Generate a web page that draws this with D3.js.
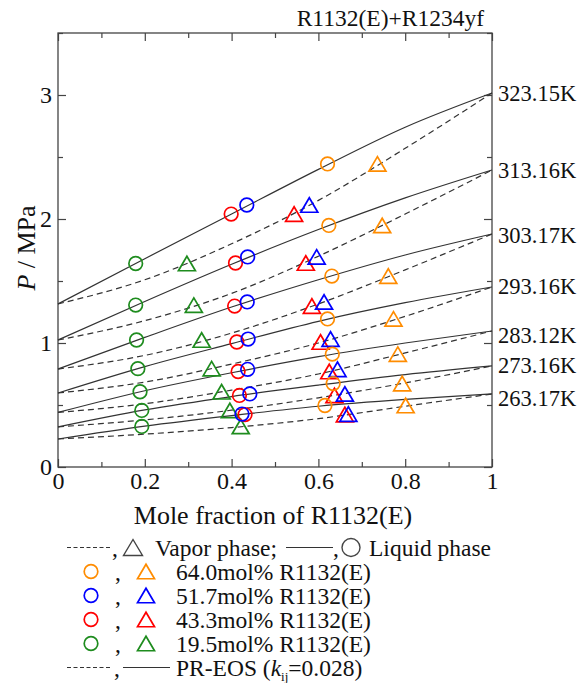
<!DOCTYPE html>
<html>
<head>
<meta charset="utf-8">
<script src="https://cdn.jsdelivr.net/npm/d3@7"></script>
<style>
  html, body { margin: 0; padding: 0; background: #fff; }
</style>
</head>
<body>
<svg id="chart" width="586" height="683" font-family="Liberation Serif"></svg>
<script>
// Isotherms of the R1132(E)+R1234yf system
const temperatures = ["323.15K", "313.16K", "303.17K", "293.16K", "283.12K", "273.16K", "263.17K"];

// PR-EOS curves, read at fixed mole fractions
const curveX = [0, 0.2, 0.4, 0.6, 0.8, 1];
const bubbleP = [
  [1.315, 1.68, 2.04, 2.40, 2.74, 3.016],
  [1.024, 1.335, 1.635, 1.915, 2.17, 2.395],
  [0.79, 1.045, 1.29, 1.51, 1.71, 1.879],
  [0.597, 0.81, 0.995, 1.175, 1.325, 1.452],
  [0.44, 0.615, 0.76, 0.89, 1.0, 1.097],
  [0.323, 0.46, 0.568, 0.66, 0.745, 0.815],
  [0.226, 0.33, 0.415, 0.49, 0.545, 0.589]
];
const dewP = [
  [1.315, 1.51, 1.80, 2.15, 2.57, 3.016],
  [1.024, 1.18, 1.40, 1.70, 2.04, 2.395],
  [0.79, 0.90, 1.08, 1.315, 1.59, 1.879],
  [0.597, 0.685, 0.83, 1.00, 1.215, 1.452],
  [0.44, 0.51, 0.62, 0.75, 0.92, 1.097],
  [0.323, 0.38, 0.458, 0.558, 0.678, 0.815],
  [0.226, 0.265, 0.318, 0.39, 0.49, 0.589]
];

// Measured mixtures (rows) at each temperature (columns)
const mixtureLabels = ["64.0mol% R1132(E)", "51.7mol% R1132(E)", "43.3mol% R1132(E)", "19.5mol% R1132(E)"];
const mixtureColors = ["#ff8c00", "#0000ff", "#ff0000", "#1e8c1e"];
const measuredP = [
  [2.444, 1.948, 1.540, 1.194, 0.910, 0.673, 0.496],
  [2.113, 1.694, 1.331, 1.032, 0.788, 0.589, 0.427],
  [2.040, 1.645, 1.298, 1.008, 0.770, 0.577, 0.423],
  [1.641, 1.306, 1.024, 0.793, 0.607, 0.456, 0.327]
];
const liquidX = [
  [0.621, 0.624, 0.631, 0.621, 0.632, 0.634, 0.615],
  [0.435, 0.437, 0.436, 0.438, 0.437, 0.442, 0.424],
  [0.399, 0.409, 0.407, 0.412, 0.415, 0.418, 0.431],
  [0.179, 0.179, 0.181, 0.184, 0.189, 0.193, 0.193]
];
const vaporY = [
  [0.736, 0.747, 0.761, 0.773, 0.783, 0.793, 0.801],
  [0.579, 0.596, 0.613, 0.628, 0.644, 0.661, 0.669],
  [0.544, 0.571, 0.585, 0.605, 0.625, 0.637, 0.661],
  [0.297, 0.313, 0.331, 0.354, 0.377, 0.396, 0.421]
];

const xTicks = [0, 0.2, 0.4, 0.6, 0.8, 1];
const xMinorTicks = [0.1, 0.3, 0.5, 0.7, 0.9];
const yTicks = [0, 1, 2, 3];
const yMinorTicks = [0.5, 1.5, 2.5, 3.5];

const svg = d3.select("#chart");
const L = 58, R = 492, T = 33, B = 467;
const x = d3.scaleLinear().domain([0, 1]).range([L, R]);
const y = d3.scaleLinear().domain([0, 3.5]).range([B, T]);

const lineColor = "#333";
const axisColor = "#444";

// ---- axes (ticks point inward on all four sides)
function styleAxis(g) {
  g.attr("font-family", "Liberation Serif");
  g.select(".domain").remove();
  g.selectAll(".tick line").attr("stroke", axisColor).attr("stroke-width", 1.2);
  g.selectAll("text").attr("font-size", 24).attr("fill", "#111");
}
const fmt = d3.format("~g");

svg.append("g").attr("transform", `translate(0,${B})`)
  .call(d3.axisBottom(x).tickValues(xTicks).tickSize(-8).tickPadding(5).tickFormat(fmt)).call(styleAxis);
svg.append("g").attr("transform", `translate(0,${B})`)
  .call(d3.axisBottom(x).tickValues(xMinorTicks).tickSize(-5).tickFormat("")).call(styleAxis);
svg.append("g").attr("transform", `translate(0,${T})`)
  .call(d3.axisTop(x).tickValues(xTicks).tickSize(-8).tickFormat("")).call(styleAxis);
svg.append("g").attr("transform", `translate(0,${T})`)
  .call(d3.axisTop(x).tickValues(xMinorTicks).tickSize(-5).tickFormat("")).call(styleAxis);
svg.append("g").attr("transform", `translate(${L},0)`)
  .call(d3.axisLeft(y).tickValues(yTicks).tickSize(-8).tickPadding(6).tickFormat(fmt)).call(styleAxis);
svg.append("g").attr("transform", `translate(${L},0)`)
  .call(d3.axisLeft(y).tickValues(yMinorTicks).tickSize(-5).tickFormat("")).call(styleAxis);
svg.append("g").attr("transform", `translate(${R},0)`)
  .call(d3.axisRight(y).tickValues(yTicks).tickSize(-8).tickFormat("")).call(styleAxis);
svg.append("g").attr("transform", `translate(${R},0)`)
  .call(d3.axisRight(y).tickValues(yMinorTicks).tickSize(-5).tickFormat("")).call(styleAxis);

// plot frame
svg.append("rect").attr("x", L).attr("y", T).attr("width", R - L).attr("height", B - T)
  .attr("fill", "none").attr("stroke", axisColor).attr("stroke-width", 1.3);

// ---- PR-EOS curves: solid = bubble (liquid), dashed = dew (vapor)
const curveLine = d3.line().x(d => x(d[0])).y(d => y(d[1])).curve(d3.curveMonotoneX);
const curves = svg.append("g");
temperatures.forEach((t, i) => {
  curves.append("path").datum(curveX.map((cx, k) => [cx, bubbleP[i][k]]))
    .attr("d", curveLine).attr("fill", "none").attr("stroke", lineColor).attr("stroke-width", 1.2);
  curves.append("path").datum(curveX.map((cx, k) => [cx, dewP[i][k]]))
    .attr("d", curveLine).attr("fill", "none").attr("stroke", lineColor).attr("stroke-width", 1.2)
    .attr("stroke-dasharray", "6,4");
});

// ---- measured points: circles = liquid, triangles = vapor
const triPath = (w, h) => `M0,${-h / 2}L${w / 2},${h / 2}L${-w / 2},${h / 2}Z`;
const markers = svg.append("g");
[3, 2, 1, 0].forEach(m => {
  const col = mixtureColors[m];
  const pts = temperatures.map((t, i) => ({ p: measuredP[m][i], xl: liquidX[m][i], yv: vaporY[m][i] }));
  markers.selectAll(null).data(pts).enter().append("circle")
    .attr("cx", d => x(d.xl)).attr("cy", d => y(d.p)).attr("r", 6.8)
    .attr("fill", "none").attr("stroke", col).attr("stroke-width", 1.7);
  markers.selectAll(null).data(pts).enter().append("path")
    .attr("d", triPath(17, 14.5))
    .attr("transform", d => `translate(${x(d.yv)},${y(d.p)})`)
    .attr("fill", "none").attr("stroke", col).attr("stroke-width", 1.7);
});

// ---- isotherm labels at the right edge
const labelNudge = [1, 1, 2, 0, 5, 0, 5];
svg.append("g").selectAll("text").data(temperatures).enter().append("text")
  .attr("x", R + 6).attr("y", (d, i) => y(bubbleP[i][bubbleP[i].length - 1]) + labelNudge[i])
  .attr("dy", "0.33em").attr("font-size", 22.5).attr("fill", "#111").text(d => d);

// ---- titles
svg.append("text").attr("x", 484).attr("y", 26).attr("text-anchor", "end")
  .attr("font-size", 23.5).attr("fill", "#111").text("R1132(E)+R1234yf");

svg.append("text").attr("x", 273).attr("y", 524).attr("text-anchor", "middle")
  .attr("font-size", 26).attr("fill", "#111").text("Mole fraction of R1132(E)");

const yTitle = svg.append("text").attr("transform", "translate(35,248) rotate(-90)")
  .attr("text-anchor", "middle").attr("font-size", 26).attr("fill", "#111");
yTitle.append("tspan").attr("font-style", "italic").text("P");
yTitle.append("tspan").text(" / MPa");

// ---- legend
const lg = svg.append("g").attr("font-size", 23.5).attr("fill", "#111");
const legendTop = 555.5, legendStep = 24;
const baseOf = k => legendTop + k * legendStep;
const symColor = "#444";

// line 1: phase key
{
  const b = baseOf(0), c = b - 8;
  lg.append("line").attr("x1", 67).attr("x2", 112).attr("y1", c).attr("y2", c)
    .attr("stroke", lineColor).attr("stroke-width", 1.1).attr("stroke-dasharray", "4,2.5");
  lg.append("text").attr("x", 112).attr("y", b).text(",");
  lg.append("path").attr("d", triPath(19, 16)).attr("transform", `translate(133,${c})`)
    .attr("fill", "none").attr("stroke", symColor).attr("stroke-width", 1.4);
  lg.append("text").attr("x", 155).attr("y", b).text("Vapor phase;");
  lg.append("line").attr("x1", 286).attr("x2", 333).attr("y1", c).attr("y2", c)
    .attr("stroke", lineColor).attr("stroke-width", 1.2);
  lg.append("text").attr("x", 333).attr("y", b).text(",");
  lg.append("circle").attr("cx", 351).attr("cy", c).attr("r", 9)
    .attr("fill", "none").attr("stroke", symColor).attr("stroke-width", 1.4);
  lg.append("text").attr("x", 369).attr("y", b).text("Liquid phase");
}

// lines 2-5: mixtures
mixtureLabels.forEach((lab, m) => {
  const b = baseOf(m + 1), c = b - 8;
  lg.append("circle").attr("cx", 91).attr("cy", c).attr("r", 6.8)
    .attr("fill", "none").attr("stroke", mixtureColors[m]).attr("stroke-width", 1.7);
  lg.append("text").attr("x", 115).attr("y", b).text(",");
  lg.append("path").attr("d", triPath(17, 14.5)).attr("transform", `translate(146,${c})`)
    .attr("fill", "none").attr("stroke", mixtureColors[m]).attr("stroke-width", 1.7);
  lg.append("text").attr("x", 176).attr("y", b).text(lab);
});

// line 6: model key
{
  const b = baseOf(5), c = b - 8;
  lg.append("line").attr("x1", 67).attr("x2", 112).attr("y1", c).attr("y2", c)
    .attr("stroke", lineColor).attr("stroke-width", 1.1).attr("stroke-dasharray", "4,2.5");
  lg.append("text").attr("x", 114).attr("y", b).text(",");
  lg.append("line").attr("x1", 123).attr("x2", 170).attr("y1", c).attr("y2", c)
    .attr("stroke", lineColor).attr("stroke-width", 1.2);
  const t = lg.append("text").attr("x", 176).attr("y", b);
  t.append("tspan").text("PR-EOS (");
  t.append("tspan").attr("font-style", "italic").text("k");
  t.append("tspan").attr("font-size", 13).attr("dy", 5).text("ij");
  t.append("tspan").attr("dy", -5).text("=0.028)");
}
</script>
</body>
</html>
